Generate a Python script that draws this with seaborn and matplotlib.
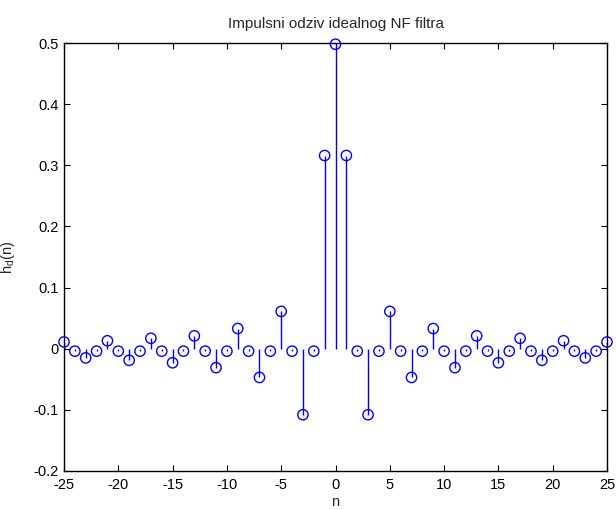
import numpy as np
import pandas as pd
import matplotlib
matplotlib.use("Agg")
import matplotlib.pyplot as plt
import seaborn as sns

# sample index and impulse response values
n_vals = list(range(-25, 26))
h_vals = [
    0.011, -0.004, -0.015, -0.004, 0.013, -0.004, -0.019, -0.004, 0.017, -0.004,
    -0.023, -0.004, 0.021, -0.004, -0.031, -0.004, 0.033, -0.004, -0.047, -0.004,
    0.061, -0.004, -0.108, -0.004, 0.316, 0.498, 0.316, -0.004, -0.108, -0.004,
    0.061, -0.004, -0.047, -0.004, 0.033, -0.004, -0.031, -0.004, 0.021, -0.004,
    -0.023, -0.004, 0.017, -0.004, -0.019, -0.004, 0.013, -0.004, -0.015, -0.004,
    0.011,
]
x_ticks = [-25, -20, -15, -10, -5, 0, 5, 10, 15, 20, 25]
y_ticks = [-0.2, -0.1, 0, 0.1, 0.2, 0.3, 0.4, 0.5]

df = pd.DataFrame({"n": n_vals, "h": h_vals})

sns.set_style("ticks")
plt.rcParams["font.family"] = ["Liberation Sans", "DejaVu Sans"]
plt.rcParams["mathtext.fontset"] = "custom"
plt.rcParams["mathtext.rm"] = "Liberation Sans"
plt.rcParams["mathtext.it"] = "Liberation Sans:italic"

fig = plt.figure(figsize=(6.16, 5.09), dpi=100)
# axes box: x 64..607 px, y 43..471 px
ax = fig.add_axes([64 / 616, 38 / 509, 543 / 616, 428 / 509])

blue = "#0000ff"
ax.vlines(df["n"], 0, df["h"], color=blue, linewidth=1.0, zorder=2)
sns.scatterplot(data=df, x="n", y="h", ax=ax, marker="o", s=55,
                facecolor="none", edgecolor=blue, linewidth=1.0,
                legend=False, zorder=3, clip_on=False)

fs = 10.5
ax.set_xlim(-25, 25)
ax.set_ylim(-0.2, 0.5)
ax.set_xticks(x_ticks)
ax.set_xticklabels([str(t) for t in x_ticks])
ax.set_yticks(y_ticks)
ax.set_yticklabels(["-0.2", "-0.1", "0", "0.1", "0.2", "0.3", "0.4", "0.5"])
ax.tick_params(direction="in", top=True, right=True, length=4,
               labelsize=fs, width=0.8, colors="black")
ax.tick_params(axis="x", pad=5)
ax.tick_params(axis="y", pad=4)
for sp in ax.spines.values():
    sp.set_visible(True)
    sp.set_linewidth(1.0)
    sp.set_color("black")

ax.set_title("Impulsni odziv idealnog NF filtra", fontsize=11, pad=11)
ax.set_xlabel("n", fontsize=fs, labelpad=2)
ax.set_ylabel(r"$\mathregular{h_d(n)}$", fontsize=fs, labelpad=12)

fig.savefig("out.png", dpi=100)
